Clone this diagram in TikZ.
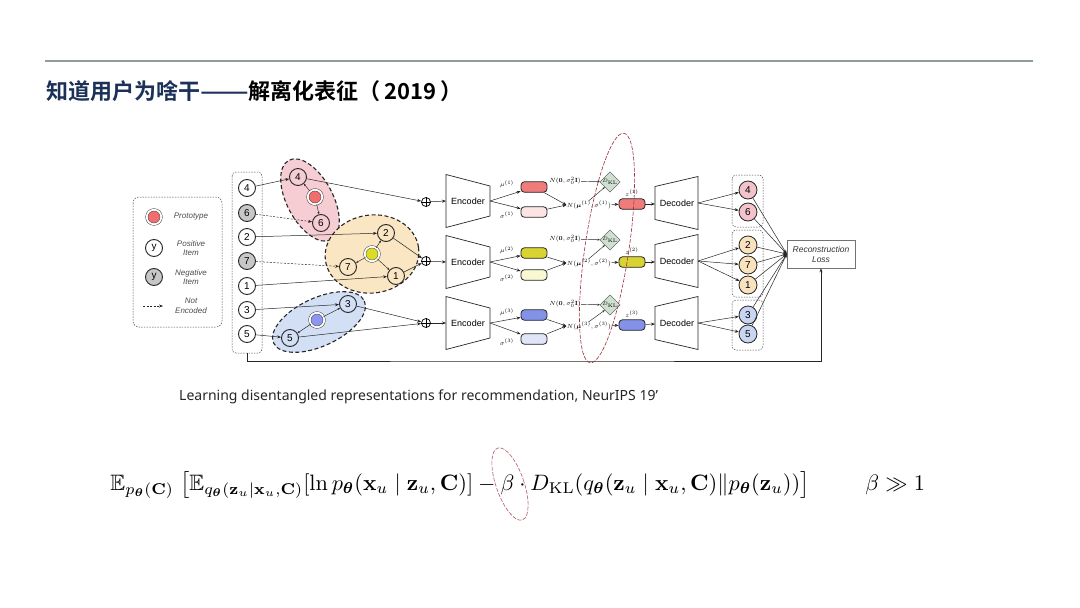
\documentclass[tikz,border=0pt]{standalone}
\usepackage{amsmath,amssymb,bm}
\usepackage[no-math]{fontspec}
\setmainfont{Liberation Sans}
\newfontfamily\cjk{Noto Sans CJK SC}[BoldFont={Noto Sans CJK SC Bold}]
\newfontfamily\citefont{Noto Sans}
\usetikzlibrary{arrows.meta,shapes.geometric,calc}
\definecolor{navy}{HTML}{1B3158}
\definecolor{protoR}{HTML}{F06E6E}
\definecolor{clR}{HTML}{F5CDD2}
\definecolor{protoY}{HTML}{DCDC28}
\definecolor{clY}{HTML}{FAE6C3}
\definecolor{protoB}{HTML}{8C96F0}
\definecolor{clB}{HTML}{D2DFF5}
\definecolor{sigR}{HTML}{FCE4E4}
\definecolor{sigY}{HTML}{F8F8D2}
\definecolor{sigB}{HTML}{E0E6F8}
\definecolor{outR}{HTML}{F3C3CB}
\definecolor{outY}{HTML}{F8E3BE}
\definecolor{outB}{HTML}{C9D6F2}
\definecolor{muR}{HTML}{EF7B7B}
\definecolor{muY}{HTML}{D9D332}
\definecolor{muB}{HTML}{8391E6}
\definecolor{dia}{HTML}{CFE0D0}
\definecolor{annot}{HTML}{A0303C}
\definecolor{rule}{HTML}{8F9C9C}
\begin{document}
\begin{tikzpicture}[x=1pt,y=-1pt,
  item/.style={circle, draw=black!85, line width=0.9pt, minimum size=17pt, inner sep=0pt, font=\fontsize{10}{10}\selectfont, fill=white},
  neg/.style={item, fill=black!22},
  citem/.style={item, fill=none},
  oitem/.style={item, minimum size=18pt, line width=0.8pt},
  proto/.style={circle, draw=black!80, line width=0.45pt, double, double distance=1.8pt, minimum size=14.5pt, inner sep=0pt},
  arr/.style={-{Stealth[length=4pt,width=3pt]}, line width=0.5pt, draw=black!85},
  sarr/.style={-{Stealth[length=2.5pt,width=2pt]}, line width=0.45pt, draw=black!85},
  dasharr/.style={arr, dash pattern=on 2pt off 1.5pt},
  cluster/.style={draw=black!85, line width=1.1pt, dash pattern=on 4pt off 2.5pt},
  dbox/.style={draw=black!70, line width=0.5pt, dash pattern=on 1.5pt off 1.2pt, rounded corners=4pt},
  trap/.style={draw=black!85, line width=0.7pt, fill=white},
  vbox/.style={rounded corners=3.5pt, draw=black!85, line width=0.8pt, minimum width=26pt, minimum height=10.5pt, inner sep=0pt},
  plusn/.style={circle, draw=black!90, line width=0.8pt, minimum size=9pt, inner sep=0pt},
  ml/.style={font=\fontsize{6.3}{7}\selectfont, inner sep=0.3pt},
  ltext/.style={font=\itshape\fontsize{8}{9.5}\selectfont, text=black!70, align=center},
  blk/.style={font=\fontsize{9}{10}\selectfont}
]
\fill[white] (0,0) rectangle (1080,608);
\useasboundingbox (0,0) rectangle (1080,608);

% title
\draw[line width=1.2pt, rule] (45,61) -- (1033,61);
\node[anchor=west, inner sep=0pt, font=\cjk\bfseries\fontsize{22}{26}\selectfont] (title) at (46,91) {\textcolor{navy}{知道用户为啥干\scalebox{1.3}[1]{——}}解离化表征（\,2019\,）};

% legend
\draw[dbox, rounded corners=6pt] (133,197) rectangle (222,327);
\node[proto, fill=protoR] (lp) at (154,217) {};
\node[ltext] (lpt) at (191,217) {Prototype};
\node[item] (ly) at (154,248) {y};
\node[ltext] (lyt) at (191,248) {Positive\\Item};
\node[neg] (ln) at (154,277) {y};
\node[ltext] (lnt) at (191,277) {Negative\\Item};
\coordinate (la) at (143,306);
\coordinate (lb) at (163,306);
\draw[dasharr] (la) -- (lb);
\node[ltext] (lnet) at (191,306) {Not\\Encoded};

% input column
\draw[dbox] (232,172) rectangle (262,353);
\coordinate (colb) at (247,353);
\node[item] (c4) at (247,188) {4};
\node[neg]  (c6) at (247,213) {6};
\node[item] (c2) at (247,237) {2};
\node[neg]  (c7) at (247,261) {7};
\node[item] (c1) at (247,286) {1};
\node[item] (c3) at (247,310) {3};
\node[item] (c5) at (247,334) {5};

% clusters
\draw[cluster, fill=clR, rotate around={-62:(310,200)}] (310,200) ellipse [x radius=45, y radius=23];
\draw[cluster, fill=clY, rotate around={8:(372,254)}] (372,254) ellipse [x radius=47, y radius=39];
\draw[cluster, fill=clB, rotate around={25:(319,322)}] (319,322) ellipse [x radius=50, y radius=24];

\node[citem] (r4) at (298,177) {4};
\node[proto, fill=protoR] (rp) at (315,197) {};
\node[citem] (r6) at (321,223) {6};
\node[citem] (y2) at (386,233) {2};
\node[proto, fill=protoY] (yp) at (372,254) {};
\node[citem] (y7) at (348,267) {7};
\node[citem] (y1) at (396,276) {1};
\node[citem] (b3) at (348,304) {3};
\node[proto, fill=protoB] (bp) at (317,320) {};
\node[citem] (b5) at (290,338) {5};

\draw[sarr] (rp) -- (r4);
\draw[sarr] (rp) -- (r6);
\draw[sarr] (yp) -- (y2);
\draw[sarr] (yp) -- (y7);
\draw[sarr] (yp) -- (y1);
\draw[sarr] (bp) -- (b3);
\draw[sarr] (bp) -- (b5);

\draw[arr] (c4) -- (r4);
\draw[dasharr] (c6) -- (r6);
\draw[arr] (c2) -- (y2);
\draw[dasharr] (c7) -- (y7);
\draw[arr] (c1) -- (y1);
\draw[arr] (c3) -- (b3);
\draw[arr] (c5) -- (b5);

% plus nodes
\node[plusn] (p1) at (426,202) {};
\node[plusn] (p2) at (426,261) {};
\node[plusn] (p3) at (426,323) {};
\foreach \r in {1,2,3}{\draw[line width=0.7pt] (p\r.north) -- (p\r.south) (p\r.west) -- (p\r.east);}
\draw[arr] (r4) -- (p1);
\draw[arr] (y2) -- (p2);
\draw[arr] (y1) -- (p2);
\draw[arr] (b3) -- (p3);
\draw[arr] (b5) -- (p3);

% rows
\foreach \r/\yy/\ym/\ys/\yz/\yn/\cm/\cs/\yd in {1/201/187/212/182/203/muR/sigR/203, 2/262/253/275/240/261/muY/sigY/261, 3/323/315/339/305/324/muB/sigB/323}{
  \draw[trap] (446,\yy-26.5) -- (490,\yy-15) -- (490,\yy+15) -- (446,\yy+26.5) -- cycle;
  \node[blk] (enc\r) at (468,\yy) {Encoder};
  \coordinate (enci\r) at (446,\yy);
  \coordinate (enco\r) at (490,\yy);
  \draw[arr] (p\r) -- (enci\r);
  \node[vbox, fill=\cm] (mu\r) at (534,\ym) {};
  \node[vbox, fill=\cs] (sg\r) at (534,\ys) {};
  \draw[arr] (enco\r) -- (mu\r);
  \draw[arr] (enco\r) -- (sg\r);
  \node[ml] (mul\r) at (507,\ym-3) {$\mu^{(\r)}$};
  \node[ml] (sgl\r) at (507,\ys+3) {$\sigma^{(\r)}$};
  \node[ml] (nz\r) at (565,\yz-1) {$N(\mathbf{0},\sigma_0^2\mathbf{I})$};
  \node[ml] (nm\r) at (589,\yn+2) {$N(\boldsymbol{\mu}^{(\r)},\sigma^{(\r)})$};
  \draw[arr] (mu\r) -- (nm\r.west);
  \draw[arr] (sg\r) -- (nm\r.west);
  \node[diamond, draw=black!70, fill=dia, minimum width=18pt, minimum height=16pt, inner sep=0pt, font=\fontsize{4}{5}\selectfont] (d\r) at (610,\yz) {$D_{\mathrm{KL}}$};
  \draw[sarr] (nz\r) -- (d\r);
  \draw[sarr] (nm\r.north) -- (d\r.south west);
  \node[vbox, fill=\cm] (z\r) at (632,\yn+1) {};
  \node[ml] (zl\r) at (632,\yn-10) {$z^{(\r)}$};
  \draw[arr] (nm\r) -- (z\r);
  \draw[trap] (655,\yd-16.5) -- (698,\yd-26.5) -- (698,\yd+26.5) -- (655,\yd+16.5) -- cycle;
  \node[blk] (dec\r) at (677,\yd) {Decoder};
  \coordinate (deci\r) at (655,\yd+1);
  \coordinate (deco\r) at (698,\yd);
  \draw[arr] (z\r) -- (deci\r);
}

% output
\draw[dbox] (732,175) rectangle (763,227);
\draw[dbox] (732,230) rectangle (763,297);
\draw[dbox] (732,300) rectangle (763,350);
\node[oitem, fill=outR] (o4) at (748,190) {4};
\node[oitem, fill=outR] (o6) at (748,212) {6};
\node[oitem, fill=outY] (o2) at (748,245) {2};
\node[oitem, fill=outY] (o7) at (748,265) {7};
\node[oitem, fill=outY] (o1) at (748,285) {1};
\node[oitem, fill=outB] (o3) at (748,315) {3};
\node[oitem, fill=outB] (o5) at (748,334) {5};
\foreach \o in {4,6}{\draw[arr] (deco1) -- (o\o);}
\foreach \o in {2,7,1}{\draw[arr] (deco2) -- (o\o);}
\foreach \o in {3,5}{\draw[arr] (deco3) -- (o\o);}

\node[draw=black!55, line width=0.5pt, minimum width=68pt, minimum height=28pt, align=center, font=\itshape\fontsize{8.5}{10}\selectfont, text=black!80] (loss) at (821,254) {Reconstruction\\Loss};
\foreach \o in {4,6,2,7,1,3,5}{\draw[arr] (o\o) -- (loss.west);}
\coordinate (turn) at (530,361);
\draw[arr] (colb) |- (turn) -| (loss.south);

% annotation ellipse
\draw[annot, line width=0.6pt, dash pattern=on 4pt off 1.5pt, rotate around={-8.4:(607,248)}] (607,248) ellipse [x radius=22, y radius=116];

% citation
\node[anchor=west, inner sep=0pt, font=\citefont\fontsize{14}{16}\selectfont, text=black!85] (cite) at (179,397) {Learning disentangled representations for recommendation, NeurIPS 19’};

% formula
\node[anchor=west, inner sep=0pt, scale=2.23, transform shape] (formula) at (110,485) {$\mathbb{E}_{p_{\bm\theta}(\mathbf{C})}\;\big[\mathbb{E}_{q_{\bm\theta}(\mathbf{z}_u|\mathbf{x}_u,\mathbf{C})}[\ln p_{\bm\theta}(\mathbf{x}_u\mid\mathbf{z}_u,\mathbf{C})]-\beta\cdot D_{\mathrm{KL}}(q_{\bm\theta}(\mathbf{z}_u\mid\mathbf{x}_u,\mathbf{C})\|p_{\bm\theta}(\mathbf{z}_u))\big]$};
\node[anchor=west, inner sep=0pt, scale=2.23, transform shape] (cond) at (865,485) {$\beta\gg1$};
\draw[annot!80, line width=0.6pt, dash pattern=on 4pt off 1.5pt, rotate around={19:(510,484)}] (510,484) ellipse [x radius=14, y radius=38];
\end{tikzpicture}
\end{document}
